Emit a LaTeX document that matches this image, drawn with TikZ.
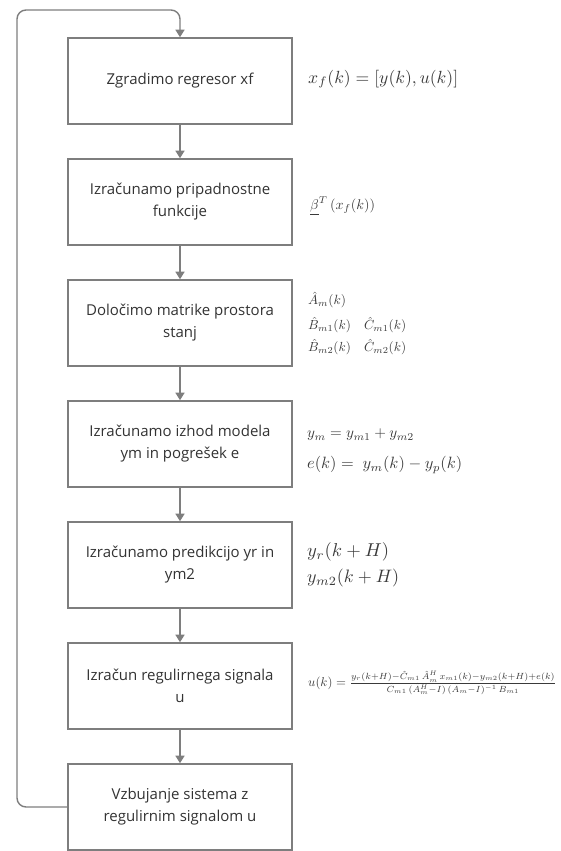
\documentclass[tikz,border=0pt]{standalone}
\usepackage{fontspec}
\usepackage{amsmath}
\usepackage{graphicx}
\setmainfont{Open Sans}
\usetikzlibrary{arrows.meta}
\definecolor{linegray}{HTML}{7E7E7E}
\definecolor{txtgray}{HTML}{333333}
\definecolor{mathgray}{HTML}{3A3A3A}
\begin{document}
\begin{tikzpicture}[x=1pt,y=-1pt,
  stepbox/.style={draw=linegray, line width=1.6pt, fill=white, minimum width=224pt, minimum height=86pt,
    inner sep=0pt, align=center, text=txtgray, font=\fontsize{15}{22}\selectfont},
  flow/.style={draw=linegray, line width=1.4pt, -{Triangle[width=9pt,length=7.5pt]}},
  eq/.style={anchor=west, inner sep=0pt, text=mathgray}]
\useasboundingbox (0,0) rectangle (561,851);
\node[stepbox] (b1) at (180,81) {Zgradimo regresor xf};
\node[stepbox] (b2) at (180,202) {Izračunamo pripadnostne\\funkcije};
\node[stepbox] (b3) at (180,323) {Določimo matrike prostora\\stanj};
\node[stepbox] (b4) at (180,444) {Izračunamo izhod modela\\ym in pogrešek e};
\node[stepbox] (b5) at (180,565) {Izračunamo predikcijo yr in\\ym2};
\node[stepbox] (b6) at (180,686) {Izračun regulirnega signala\\u};
\node[stepbox] (b7) at (180,807) {Vzbujanje sistema z\\regulirnim signalom u};
\draw[flow] (b1) -- (b2);
\draw[flow] (b2) -- (b3);
\draw[flow] (b3) -- (b4);
\draw[flow] (b4) -- (b5);
\draw[flow] (b5) -- (b6);
\draw[flow] (b6) -- (b7);
\coordinate (lb) at (17,807);
\coordinate (lt) at (17,10);
\coordinate (rt) at (180,10);
\draw[flow, rounded corners=9pt] (b7.west) -- (lb) -- (lt) -- (rt) -- (b1.north);
% formulas
\node[eq] (f1) at (308,79) {\resizebox{150pt}{!}{$x_f(k) = [y(k), u(k)]$}};
\node[eq] (f2) at (310,206) {\resizebox{65pt}{!}{$\underline{\beta}^{T}\left(x_f(k)\right)$}};
\node[eq] (f3a) at (308,300) {\resizebox{38pt}{!}{$\hat{A}_m(k)$}};
\node[eq] (f3b) at (308,325) {\resizebox{98pt}{!}{$\hat{B}_{m1}(k)\quad \hat{C}_{m1}(k)$}};
\node[eq] (f3c) at (308,347) {\resizebox{98pt}{!}{$\hat{B}_{m2}(k)\quad \hat{C}_{m2}(k)$}};
\node[eq] (f4a) at (307,435) {\resizebox{107pt}{!}{$y_m = y_{m1} + y_{m2}$}};
\node[eq] (f4b) at (307,465) {\resizebox{155pt}{!}{$e(k) =\ y_m(k) - y_p(k)$}};
\node[eq] (f5a) at (307,552) {\resizebox{82pt}{!}{$y_r(k+H)$}};
\node[eq] (f5b) at (307,578) {\resizebox{92pt}{!}{$y_{m2}(k+H)$}};
\node[eq] (f6) at (308,683) {\resizebox{248pt}{!}{$u(k) = \frac{y_r(k+H) - \hat{C}_{m1}\,\hat{A}_m^{H}\,x_{m1}(k) - y_{m2}(k+H) + e(k)}{\hat{C}_{m1}\,(\hat{A}_m^{H} - I)\,(\hat{A}_m - I)^{-1}\,\hat{B}_{m1}}$}};
\end{tikzpicture}
\end{document}
